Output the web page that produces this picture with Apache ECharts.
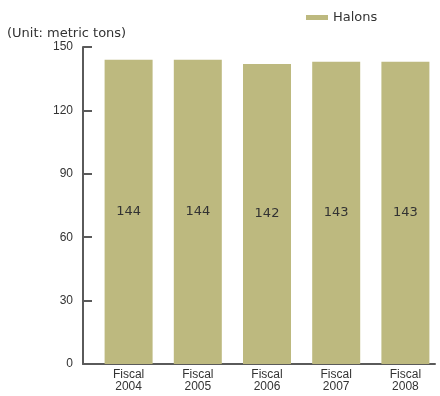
<!DOCTYPE html>
<html>
<head>
<meta charset="utf-8">
<script src="https://cdn.jsdelivr.net/npm/echarts@6/dist/echarts.min.js"></script>
<style>
  html, body { margin: 0; padding: 0; background: #fff; }
  #chart { width: 440px; height: 396px; }
</style>
</head>
<body>
<div id="chart"></div>
<script>
// Annual halon holdings
const categories = ['Fiscal\n2004', 'Fiscal\n2005', 'Fiscal\n2006', 'Fiscal\n2007', 'Fiscal\n2008'];
const halons = [144, 144, 142, 143, 143];
const yTicks = { min: 0, max: 150, interval: 30 };

const FONT = '"Liberation Sans", Arial, Helvetica, sans-serif';
const WIDE = '"DejaVu Sans", Verdana, sans-serif';
const AXIS = '#5a5a5a';
const TEXT = '#333';
const BAR = '#bdb97f';

const chart = echarts.init(document.getElementById('chart'));
chart.setOption({
  animation: false,
  textStyle: { fontFamily: FONT },
  legend: {
    data: ['Halons'],
    left: 306,
    top: 11,
    padding: 0,
    itemWidth: 22,
    itemHeight: 5,
    itemGap: 4,
    icon: 'rect',
    textStyle: { fontSize: 13, color: TEXT, fontFamily: WIDE, padding: [0, 0, 0, 0] }
  },
  graphic: [{
    type: 'text',
    left: 7,
    top: 27,
    style: { text: '(Unit: metric tons)', fontSize: 13, fill: TEXT, fontFamily: WIDE }
  }],
  grid: [
    { left: 94, top: 47, width: 350, height: 317 },
    { left: 83, top: 47, width: 352, height: 317 }
  ],
  xAxis: [{
    gridIndex: 0,
    type: 'category',
    data: categories,
    axisLine: { show: false },
    axisTick: { show: false },
    axisLabel: { color: TEXT, fontSize: 12, lineHeight: 12, margin: 5, fontFamily: FONT }
  }, {
    gridIndex: 1,
    type: 'value',
    min: 0,
    max: 1,
    axisLine: { show: true, lineStyle: { color: AXIS, width: 2 } },
    axisTick: { show: false },
    axisLabel: { show: false },
    splitLine: { show: false }
  }],
  yAxis: [{
    gridIndex: 0,
    type: 'value',
    min: yTicks.min,
    max: yTicks.max,
    interval: yTicks.interval,
    offset: 11,
    axisLine: { show: true, lineStyle: { color: AXIS, width: 2 } },
    axisTick: { show: true, inside: true, length: 9, lineStyle: { color: AXIS, width: 2 } },
    axisLabel: { color: TEXT, fontSize: 12, margin: 10, fontFamily: FONT },
    splitLine: { show: false }
  }, {
    gridIndex: 1,
    type: 'value',
    show: false,
    min: 0,
    max: 1
  }],
  series: [{
    name: 'Halons',
    type: 'bar',
    xAxisIndex: 0,
    yAxisIndex: 0,
    data: halons,
    barWidth: 48,
    itemStyle: { color: BAR },
    label: {
      show: true,
      position: 'inside',
      color: TEXT,
      fontSize: 13,
      fontFamily: WIDE
    }
  }]
});
</script>
</body>
</html>
